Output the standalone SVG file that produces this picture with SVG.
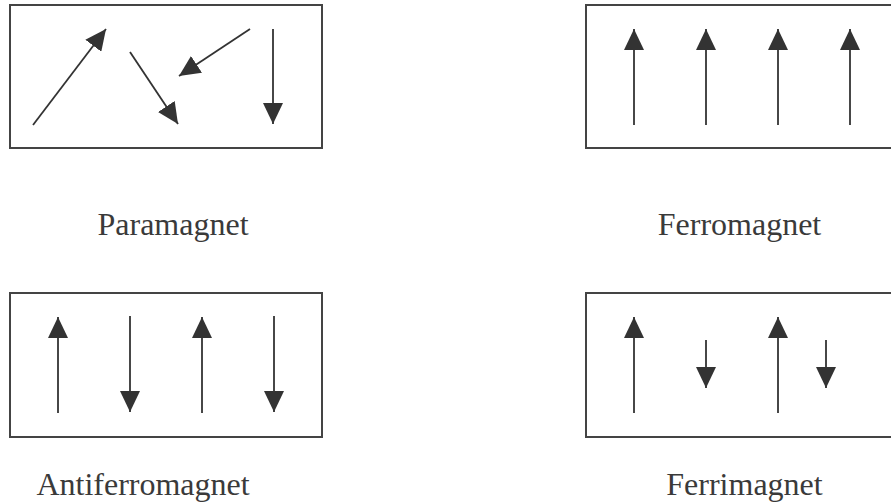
<svg xmlns="http://www.w3.org/2000/svg" width="891" height="504" viewBox="0 0 891 504">
<style>
.box{fill:#fff;stroke:#444;stroke-width:2}
.ar{stroke:#333;stroke-width:1.8;fill:none;marker-end:url(#head)}
.lbl{font-family:"Liberation Serif","Times New Roman",serif;font-size:32px;fill:#3a3a3a;text-anchor:middle}
</style>
<defs>
<marker id="head" markerUnits="userSpaceOnUse" markerWidth="22" markerHeight="20" refX="21" refY="10" orient="auto" viewBox="0 0 22 20">
<path d="M0,0 L21,10 L0,20 Z" fill="#333"/>
</marker>
</defs>
<rect width="891" height="504" fill="#fff"/>
<g id="paramagnet">
<rect class="box" x="10" y="5" width="312" height="143"/>
<line class="ar" x1="33" y1="125" x2="106" y2="29"/>
<line class="ar" x1="130" y1="52" x2="178" y2="124"/>
<line class="ar" x1="250" y1="29" x2="179" y2="76"/>
<line class="ar" x1="273" y1="29" x2="273" y2="124"/>
<text class="lbl" x="173" y="235">Paramagnet</text>
</g>
<g id="ferromagnet">
<rect class="box" x="586" y="5" width="312" height="143"/>
<line class="ar" x1="634" y1="125" x2="634" y2="29"/>
<line class="ar" x1="706" y1="125" x2="706" y2="29"/>
<line class="ar" x1="778" y1="125" x2="778" y2="29"/>
<line class="ar" x1="850" y1="125" x2="850" y2="29"/>
<text class="lbl" x="739.5" y="235">Ferromagnet</text>
</g>
<g id="antiferromagnet">
<rect class="box" x="10" y="293" width="312" height="144"/>
<line class="ar" x1="58" y1="413" x2="58" y2="317"/>
<line class="ar" x1="130" y1="316" x2="130" y2="412"/>
<line class="ar" x1="202" y1="413" x2="202" y2="317"/>
<line class="ar" x1="274" y1="316" x2="274" y2="412"/>
<text class="lbl" x="143" y="495">Antiferromagnet</text>
</g>
<g id="ferrimagnet">
<rect class="box" x="586" y="293" width="312" height="144"/>
<line class="ar" x1="634" y1="413" x2="634" y2="317"/>
<line class="ar" x1="706" y1="340" x2="706" y2="388"/>
<line class="ar" x1="778" y1="413" x2="778" y2="317"/>
<line class="ar" x1="826" y1="340" x2="826" y2="388"/>
<text class="lbl" x="744.5" y="495">Ferrimagnet</text>
</g>
</svg>
